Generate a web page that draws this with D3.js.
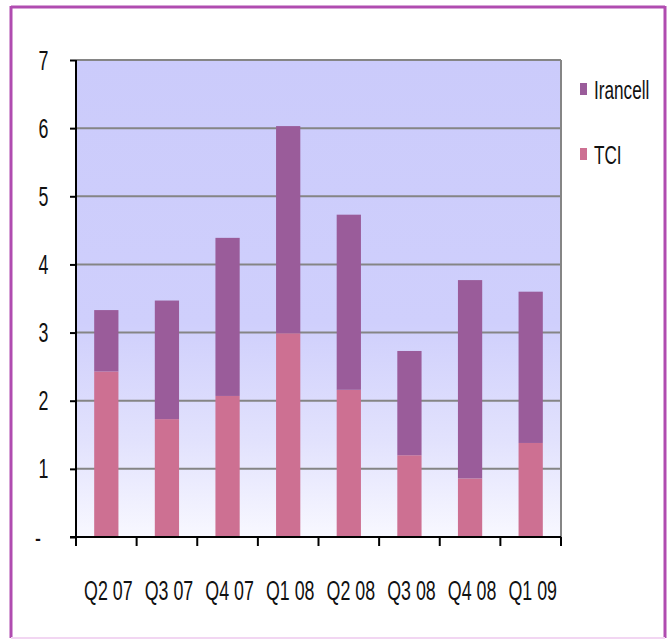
<!DOCTYPE html>
<html>
<head>
<meta charset="utf-8">
<script src="https://cdn.jsdelivr.net/npm/d3@7"></script>
<style>
  html, body { margin: 0; padding: 0; background: #fff; }
  text { font-family: "Liberation Sans", Arial, sans-serif; fill: #111; }
</style>
</head>
<body>
<svg id="chart"></svg>
<script>
// values
const quarters = ['Q2 07', 'Q3 07', 'Q4 07', 'Q1 08', 'Q2 08', 'Q3 08', 'Q4 08', 'Q1 09'];
const tci = [2.43, 1.73, 2.07, 2.99, 2.16, 1.20, 0.86, 1.38];
const irancell = [0.90, 1.74, 2.32, 3.04, 2.57, 1.53, 2.91, 2.22];
const seriesNames = ['Irancell', 'TCI'];
const yTicks = [0, 1, 2, 3, 4, 5, 6, 7];

const W = 668, H = 639;
const plot = { left: 76, right: 561, top: 60, bottom: 537 };
const colors = { Irancell: '#9a5c9a', TCI: '#cd7092' };
const squeeze = 0.66; // the source text is narrow

const svg = d3.select('#chart').attr('width', W).attr('height', H);

// background fill of the plot area
const grad = svg.append('defs').append('linearGradient')
  .attr('id', 'bg').attr('x1', 0).attr('y1', 0).attr('x2', 0).attr('y2', 1);
grad.append('stop').attr('offset', '0%').attr('stop-color', '#cbcbfb');
grad.append('stop').attr('offset', '55%').attr('stop-color', '#cfcffc');
grad.append('stop').attr('offset', '80%').attr('stop-color', '#e2e2fd');
grad.append('stop').attr('offset', '100%').attr('stop-color', '#f8f8ff');

// outer frame
svg.append('line').attr('x1', 11).attr('y1', 7).attr('x2', 665).attr('y2', 7)
  .attr('stroke', '#b04cb0').attr('stroke-width', 3);
svg.append('line').attr('x1', 11).attr('y1', 6).attr('x2', 11).attr('y2', 638)
  .attr('stroke', '#b04cb0').attr('stroke-width', 3);
svg.append('line').attr('x1', 665).attr('y1', 6).attr('x2', 665).attr('y2', 638)
  .attr('stroke', '#b04cb0').attr('stroke-width', 3);
svg.append('line').attr('x1', 11).attr('y1', 638).attr('x2', 665).attr('y2', 638)
  .attr('stroke', '#f2d6f2').attr('stroke-width', 2);

const x = d3.scaleBand()
  .domain(quarters)
  .range([plot.left, plot.right])
  .paddingInner(0.6)
  .paddingOuter(0.3);

const y = d3.scaleLinear()
  .domain([0, 7])
  .range([plot.bottom, plot.top]);

svg.append('rect')
  .attr('x', plot.left).attr('y', plot.top)
  .attr('width', plot.right - plot.left).attr('height', plot.bottom - plot.top)
  .attr('fill', 'url(#bg)');

// gridlines
svg.append('g').selectAll('line')
  .data(yTicks.filter(d => d > 0))
  .enter().append('line')
  .attr('x1', plot.left).attr('x2', plot.right)
  .attr('y1', d => y(d)).attr('y2', d => y(d))
  .attr('stroke', '#858585').attr('stroke-width', 2);

svg.append('line')
  .attr('x1', plot.right).attr('x2', plot.right)
  .attr('y1', plot.top).attr('y2', plot.bottom)
  .attr('stroke', '#858585').attr('stroke-width', 2);

// stacked bars
const rows = quarters.map((q, i) => ({ q: q, TCI: tci[i], Irancell: irancell[i] }));
const stack = d3.stack().keys(['TCI', 'Irancell'])(rows);

svg.append('g').selectAll('g')
  .data(stack)
  .enter().append('g')
  .attr('fill', d => colors[d.key])
  .selectAll('rect')
  .data(d => d)
  .enter().append('rect')
  .attr('x', d => x(d.data.q))
  .attr('width', x.bandwidth())
  .attr('y', d => y(d[1]))
  .attr('height', d => y(d[0]) - y(d[1]));

// y axis
const yAxis = d3.axisLeft(y).tickValues(yTicks).tickSize(6).tickFormat(() => '');
const gy = svg.append('g').attr('transform', 'translate(' + plot.left + ',0)').call(yAxis);
gy.select('.domain').attr('stroke', '#000').attr('stroke-width', 2)
  .attr('d', 'M0,' + plot.top + 'V' + (plot.bottom + 8));
gy.selectAll('.tick line').attr('stroke', '#000').attr('stroke-width', 2);

svg.append('g').selectAll('g')
  .data(yTicks)
  .enter().append('g')
  .attr('transform', d => 'translate(' + (d === 0 ? 38 : 43.5) + ',' + (y(d) + 9.5) + ')')
  .append('text')
  .attr('transform', 'scale(' + squeeze + ',1)')
  .attr('text-anchor', 'middle')
  .style('font-size', '27px')
  .text(d => d === 0 ? '-' : d);

// x axis with ticks between categories
svg.append('line')
  .attr('x1', plot.left - 6).attr('x2', plot.right)
  .attr('y1', plot.bottom).attr('y2', plot.bottom)
  .attr('stroke', '#000').attr('stroke-width', 2);

svg.append('g').selectAll('line')
  .data(d3.range(quarters.length + 1))
  .enter().append('line')
  .attr('x1', i => x.range()[0] + i * x.step() * (x.range()[1] - x.range()[0]) / (x.step() * quarters.length))
  .attr('x2', i => x.range()[0] + i * x.step() * (x.range()[1] - x.range()[0]) / (x.step() * quarters.length))
  .attr('y1', plot.bottom).attr('y2', plot.bottom + 9)
  .attr('stroke', '#000').attr('stroke-width', 2);

svg.append('g').selectAll('g')
  .data(quarters)
  .enter().append('g')
  .attr('transform', d => 'translate(' + (x(d) + x.bandwidth() / 2 + 2) + ',600)')
  .append('text')
  .attr('transform', 'scale(' + squeeze + ',1)')
  .attr('text-anchor', 'middle')
  .style('font-size', '27px')
  .text(d => d);

// legend
const legend = svg.append('g').selectAll('g')
  .data(seriesNames)
  .enter().append('g')
  .attr('transform', (d, i) => 'translate(580,' + (83 + i * 65) + ')');

legend.append('rect')
  .attr('width', 7).attr('height', 12)
  .attr('fill', d => colors[d]);

legend.append('g')
  .attr('transform', 'translate(14,16)')
  .append('text')
  .attr('transform', 'scale(' + squeeze + ',1)')
  .style('font-size', '26px')
  .text(d => d);
</script>
</body>
</html>
